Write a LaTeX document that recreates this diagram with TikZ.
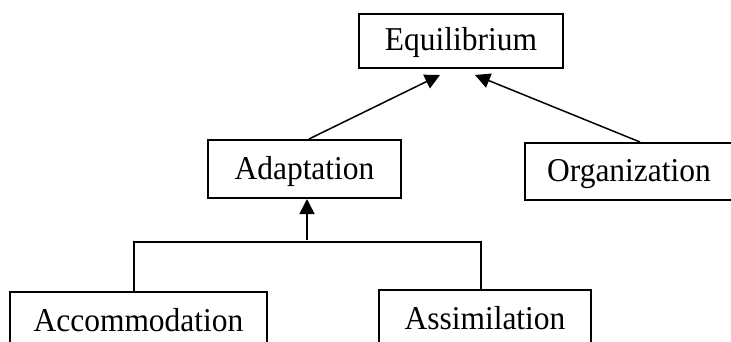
\documentclass[tikz,border=0pt]{standalone}
\usepackage{fontspec}
\setmainfont{Liberation Serif}[FakeStretch=0.945]
\usetikzlibrary{arrows.meta}
\begin{document}
\begin{tikzpicture}[x=1pt,y=-1pt,
  box/.style={draw=black,line width=2pt,rectangle,inner sep=0pt,
    font=\fontsize{33.3}{38}\selectfont,text height=28pt,text depth=8pt},
  link/.style={line width=1.5pt,draw=black},
  arr/.style={link,-{Triangle[length=15pt,width=15pt]}}]
\clip (0,0) rectangle (731,342);
\fill[white] (0,0) rectangle (731,342);
\node[box,minimum width=204pt,minimum height=54pt] (equilibrium) at (461,41) {Equilibrium};
\node[box,minimum width=193pt,minimum height=58pt] (adaptation) at (304.5,169) {Adaptation};
\node[box,minimum width=208pt,minimum height=57pt] (organization) at (629,171.5) {Organization};
\node[box,minimum width=257pt,minimum height=58pt] (accommodation) at (138.5,321) {Accommodation};
\node[box,minimum width=212pt,minimum height=58pt] (assimilation) at (485,319) {Assimilation};
\coordinate (junction) at (307,242);
\draw[arr] ([xshift=4.5pt]adaptation.north) -- ([xshift=-21pt,yshift=-6pt]equilibrium.south);
\draw[arr] ([xshift=11pt]organization.north) -- ([xshift=14pt,yshift=-6pt]equilibrium.south);
\draw[link] ([xshift=-4.5pt]accommodation.north) |- (junction) -| ([xshift=-4pt]assimilation.north);
\draw[arr] ([yshift=2pt]junction) -- ([xshift=2.5pt]adaptation.south);
\end{tikzpicture}
\end{document}
